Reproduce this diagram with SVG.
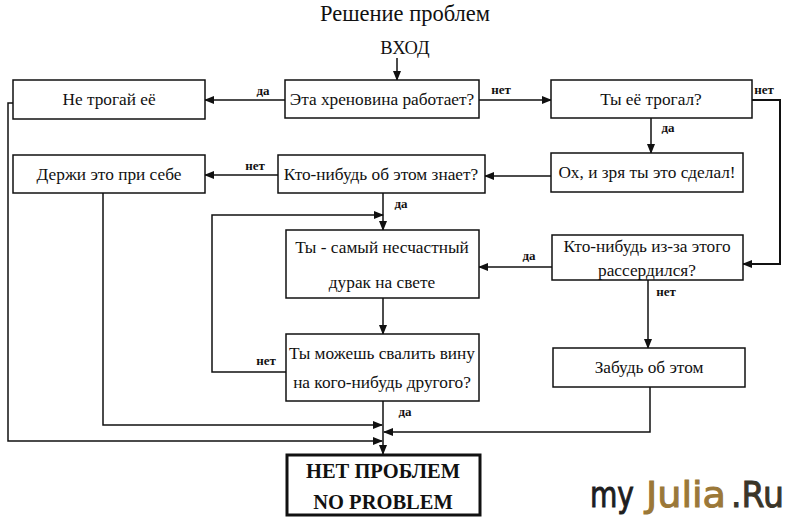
<svg xmlns="http://www.w3.org/2000/svg" width="800" height="524" viewBox="0 0 800 524">
<defs>
<marker id="ah" markerWidth="10" markerHeight="8" refX="9" refY="4" orient="auto" markerUnits="userSpaceOnUse">
<path d="M0,0 L10,4 L0,8 Z" fill="#111"/>
</marker>
<style>
.box{fill:#fff;stroke:#111;stroke-width:1.5}
.bold{fill:#fff;stroke:#111;stroke-width:3}
.t{font-family:"Liberation Serif","Times New Roman",serif;font-size:17.3px;fill:#111;text-anchor:middle}
.tb{font-family:"Liberation Serif","Times New Roman",serif;font-size:20.5px;font-weight:bold;fill:#111;text-anchor:middle}
.lb{font-family:"Liberation Serif","Times New Roman",serif;font-size:13px;font-weight:bold;fill:#111;text-anchor:middle}
.c{fill:none;stroke:#111;stroke-width:1.5}
.ca{fill:none;stroke:#111;stroke-width:1.5;marker-end:url(#ah)}
.wm{font-family:"DejaVu Sans",sans-serif;font-size:36px;stroke-width:1}
</style>
</defs>
<rect width="800" height="524" fill="#fff"/>
<text x="405" y="21" class="t" style="font-size:22.5px">Решение проблем</text>
<text x="405" y="54" class="t" style="font-size:18.5px">ВХОД</text>

<g id="connectors">
<path class="ca" d="M397,58 V80"/>
<path class="ca" d="M285,100 H205"/>
<path class="ca" d="M479,100 H551"/>
<path class="ca" d="M752,100 H780 V264 H743" style="stroke-width:2"/>
<path class="ca" d="M651,118 V153"/>
<path class="ca" d="M551,176 H485"/>
<path class="ca" d="M278,175 H205"/>
<path class="ca" d="M383,193 V230"/>
<path class="ca" d="M286,372 H212 V215 H383"/>
<path class="ca" d="M552,267 H479"/>
<path class="ca" d="M383,298 V334"/>
<path class="ca" d="M648,280 V348"/>
<path class="ca" d="M650,387 V432 H384"/>
<path class="ca" d="M383,401 V454"/>
<path class="ca" d="M103,193 V425 H382"/>
<path class="ca" d="M13,103 H8 V441 H382"/>
<text x="263" y="95" class="lb">да</text>
<text x="501" y="94" class="lb">нет</text>
<text x="764" y="94" class="lb">нет</text>
<text x="668" y="132" class="lb">да</text>
<text x="255" y="170" class="lb">нет</text>
<text x="401" y="208" class="lb">да</text>
<text x="529" y="260" class="lb">да</text>
<text x="666" y="296" class="lb">нет</text>
<text x="266" y="365" class="lb">нет</text>
<text x="405" y="416" class="lb">да</text>
</g>

<g id="n1"><rect class="box" x="13" y="80" width="192" height="39"/><text x="109" y="105" class="t">Не трогай её</text></g>
<g id="n2"><rect class="box" x="285" y="80" width="194" height="38"/><text x="382" y="105" class="t">Эта хреновина работает?</text></g>
<g id="n3"><rect class="box" x="551" y="80" width="201" height="38"/><text x="651" y="105" class="t">Ты её трогал?</text></g>
<g id="n4"><rect class="box" x="13" y="155" width="192" height="38"/><text x="109" y="180" class="t">Держи это при себе</text></g>
<g id="n5"><rect class="box" x="278" y="155" width="207" height="38"/><text x="381" y="180" class="t">Кто-нибудь об этом знает?</text></g>
<g id="n6"><rect class="box" x="551" y="153" width="192" height="39"/><text x="647" y="178" class="t">Ох, и зря ты это сделал!</text></g>
<g id="n7"><rect class="box" x="286" y="230" width="193" height="68"/><text x="382" y="253" class="t">Ты - самый несчастный</text><text x="382" y="288" class="t">дурак на свете</text></g>
<g id="n8"><rect class="box" x="552" y="235" width="191" height="45"/><text x="647" y="252" class="t">Кто-нибудь из-за этого</text><text x="647" y="276" class="t">рассердился?</text></g>
<g id="n9"><rect class="box" x="286" y="334" width="193" height="67"/><text x="382" y="359" class="t">Ты можешь свалить вину</text><text x="382" y="388" class="t">на кого-нибудь другого?</text></g>
<g id="n10"><rect class="box" x="553" y="348" width="192" height="39"/><text x="649" y="373" class="t">Забудь об этом</text></g>
<g id="n11"><rect class="bold" x="287" y="455" width="193" height="60"/><text x="383" y="478" class="tb">НЕТ ПРОБЛЕМ</text><text x="383" y="509" class="tb">NO PROBLEM</text></g>

<text x="590" y="507" class="wm" fill="#1e1e1e" stroke="#1e1e1e" textLength="44" lengthAdjust="spacingAndGlyphs">my</text>
<text x="646" y="507" class="wm" fill="#9b7838" stroke="#9b7838" textLength="80" lengthAdjust="spacingAndGlyphs">Julia</text>
<text x="731" y="507" class="wm" fill="#3a3528" stroke="#3a3528" textLength="53" lengthAdjust="spacingAndGlyphs">.Ru</text>
</svg>
